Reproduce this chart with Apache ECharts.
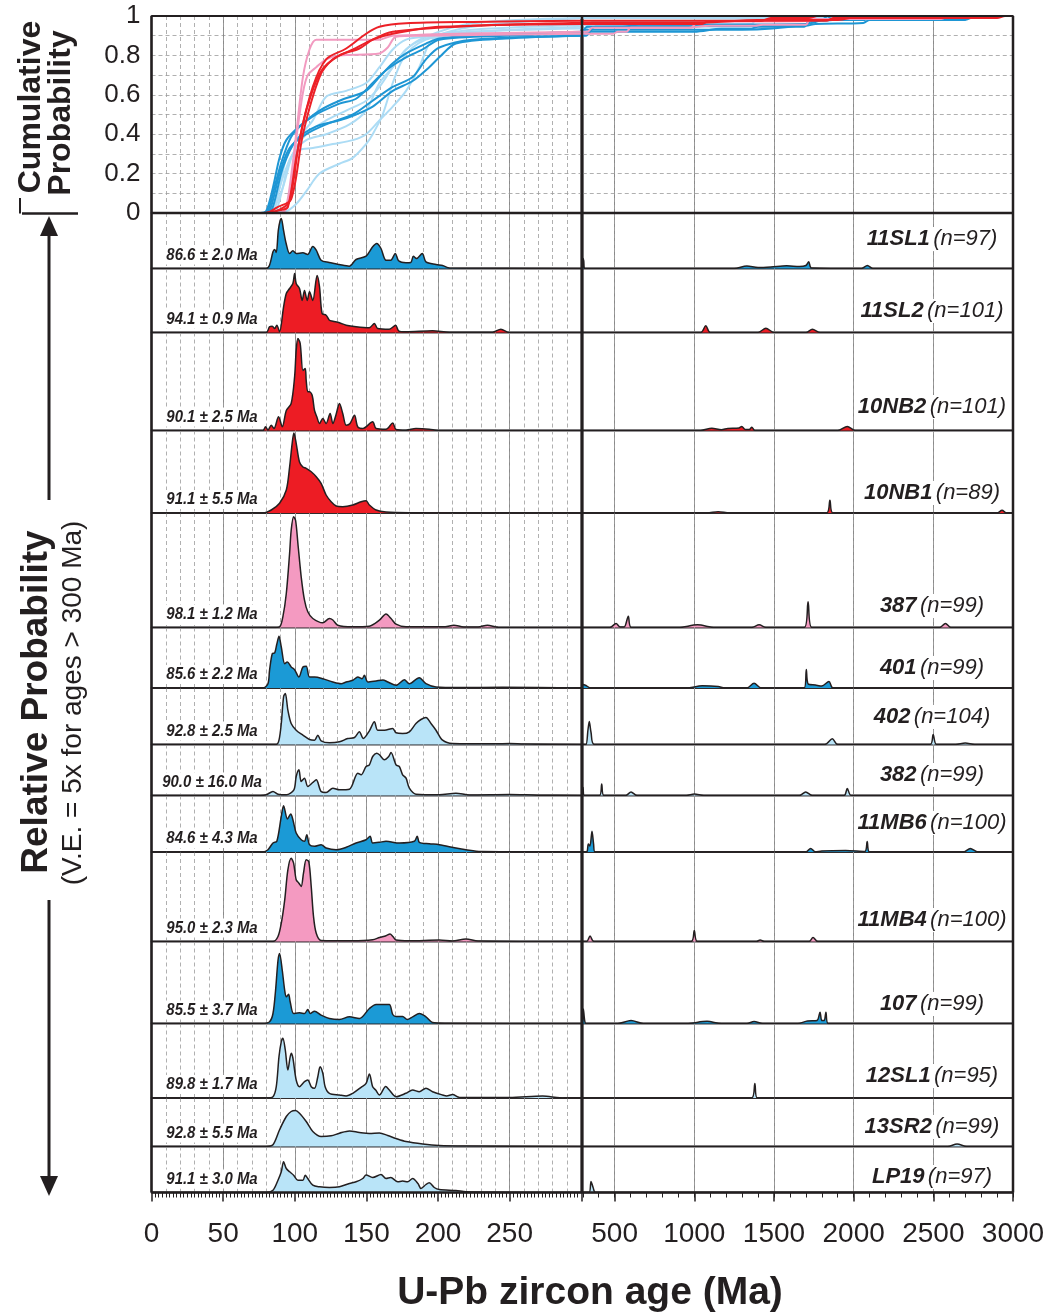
<!DOCTYPE html>
<html>
<head>
<meta charset="utf-8">
<script src="https://cdn.jsdelivr.net/npm/echarts@6/dist/echarts.min.js"></script>
<style>
html,body{margin:0;padding:0;background:#fff}
#chart{width:1049px;height:1314px}
</style>
</head>
<body>
<div id="chart"></div>
<script>
// samples, top to bottom
var sampleNames = ['11SL1','11SL2','10NB2','10NB1','387','401','402','382','11MB6','11MB4','107','12SL1','13SR2','LP19']
var sampleCounts = [97,101,101,89,99,99,104,99,100,100,99,95,99,97]
var youngestAges = ['86.6 ± 2.0','94.1 ± 0.9','90.1 ± 2.5','91.1 ± 5.5','98.1 ± 1.2','85.6 ± 2.2','92.8 ± 2.5','90.0 ± 16.0','84.6 ± 4.3','95.0 ± 2.3','85.5 ± 3.7','89.8 ± 1.7','92.8 ± 5.5','91.1 ± 3.0']
var sampleGroup = ['dark','red','red','red','pink','dark','light','light','dark','pink','dark','light','light','light']

// relative probability [age Ma, height], 0-300 Ma
var pdp11SL1 = [[0,0],[80,0],[82.4,3.3],[84.8,16.7],[86,19],[87.1,16],[88.5,38],[89.8,48],[90.6,50],[92.2,38],[94,25],[96.4,15],[98.7,17.7],[101,15],[105.7,15.7],[109,14],[112.6,22],[115,18.3],[118.4,8.3],[124,6],[131,4],[138,2.3],[142.8,9],[149.8,12.3],[154.4,21.7],[157.2,25],[160.2,20],[163.7,8.3],[167,8.3],[170.2,15],[172.5,7.7],[177.6,5.7],[181,6],[182.8,12.3],[185,10],[189,15],[191.6,6.7],[198.6,4],[203.2,3],[208,0.5],[300,0]]
var pdp11SL2 = [[0,0],[80,0],[82.4,5.7],[84.3,6.3],[86,4],[87.5,7.3],[89.4,0.7],[92.2,25.7],[94.1,39],[96.4,44],[98.7,49],[99.9,59],[101,49],[103.3,44],[105.2,32],[106.8,42],[108.7,32],[110.3,40.7],[112.6,32],[115.6,57],[117.3,45.7],[119.1,19],[121.9,17.3],[124.2,12.3],[126.6,11.3],[131.2,9.7],[135.9,7.3],[142.8,5.7],[152,4.7],[155.6,9],[157.9,4],[166,3.3],[170.4,7.3],[172.5,1.7],[177.6,0.7],[196.2,1.7],[208,0.3],[238,0.3],[243.9,3.3],[249.8,0],[300,0]]
var pdp10NB2 = [[0,0],[77.8,0],[79.6,3.7],[81.3,0.5],[83.6,5.3],[85.5,2],[88.7,13.7],[91.3,3.7],[94.1,20],[97.5,27],[99.9,53.7],[101,80],[102.2,92],[103.8,87],[105.7,60],[107.3,62],[108,50],[109.1,38.7],[110.3,38.7],[112.2,35],[113.8,20],[115.4,13.7],[117.3,7],[119.6,12],[121.9,7],[124.7,17],[126.6,7],[128.9,16.3],[131.2,27],[133.5,17],[135.9,5.3],[138.6,7],[141.7,15.3],[144,3.7],[147.5,2],[154.4,8.7],[156.8,2],[163.7,1.3],[168.4,7.5],[170.7,1],[177.7,0.3],[184.6,2],[193.9,1.3],[200,0],[300,0]]
var pdp10NB1 = [[0,0],[77.8,0],[83.6,3],[89.4,9.7],[94.1,23],[96.4,46],[98.2,69.7],[99.4,80],[101,69.7],[103.3,51],[105.7,46],[108,44.7],[111.5,41.3],[115,36.3],[118.4,29.7],[121.9,18],[125.4,11.3],[128.9,7],[133.5,6.3],[140.5,8],[146.3,11.3],[149.8,12.3],[152.1,8],[156.8,3],[163.7,1],[180,0.3],[300,0]]
var pdp387 = [[0,0],[84.8,0],[89.4,0.7],[91.7,10.7],[94.1,34],[96.4,74],[97.5,97],[99.2,110.7],[100.6,107],[102.2,84],[104.5,50.7],[106.8,27.3],[109.1,15.7],[112.6,9],[119.6,4.7],[124.2,9],[126.6,7.5],[130,2.3],[140.5,0.7],[152,1.3],[159.1,7.3],[163.7,13.5],[167.2,9],[170.7,3.3],[177.7,0.7],[205,0.7],[211,2.3],[218,0.5],[228,0.5],[234.5,2.3],[242,0.3],[300,0]]
var pdp401 = [[0,0],[77.8,0],[81.3,4.3],[82.4,17.7],[84.3,34.3],[86,35],[87.5,44],[89,51.7],[90.6,41],[93,24.3],[94.8,26],[97.5,21],[99.9,18.3],[102.9,11],[105.7,21],[108,21.7],[110.3,11],[113.8,11],[119.6,9.3],[126.6,6],[132.4,4.3],[135.9,6],[140.5,7.7],[144,11],[147,9.3],[148.6,12.7],[151,6],[156.8,7],[161.5,8],[165,6],[170.7,2.7],[176.5,8.3],[180,4.3],[186.9,10.3],[191.6,4.3],[198.6,1],[215,0.5],[245,0.7],[300,0]]
var pdp402 = [[0,0],[87.1,0],[89,4.3],[90.6,21],[92.2,47.7],[93.4,51],[95.2,34.3],[97.5,21],[101,14.3],[105.7,9.3],[110.3,5],[113.8,4.3],[116.1,9.3],[118.4,3.7],[124.2,1.7],[131.2,2.7],[137,6],[141.7,7],[145.1,12.7],[147.9,6],[152.1,13.7],[155.6,22.7],[157.9,14.3],[162.6,14.3],[168.4,16],[170.7,11.7],[175.3,11],[180,12.7],[184.6,21],[188.1,25],[191.6,27],[195.1,21],[198.6,14.3],[203.2,4.3],[210.2,1],[240,0.7],[250,1],[260,0.5],[300,0]]
var pdp382 = [[0,0],[76,0],[80.1,0.7],[84.8,4],[88.3,1.3],[94.1,0.7],[99.4,5.7],[101,19],[102.9,25.7],[104.5,14],[106.8,17.3],[109.1,9],[112.6,13],[115,15.7],[118.4,4],[121.9,3],[126.6,7.3],[131.2,5.7],[138.2,6.3],[144,22.3],[146.3,20.7],[149.8,29],[152.1,30.7],[154.4,39],[157.2,42.3],[159.1,40.7],[162.6,35.7],[165.6,39],[167.2,43],[170.7,30.7],[173,29],[175.3,20.7],[177.7,17.3],[180,7.3],[184.6,1.3],[200.9,0.7],[212.5,2.3],[222,0.5],[249.8,1],[270,0.3],[300,0]]
var pdp11MB6 = [[0,0],[77.8,0],[81.3,2.3],[84.8,9],[87.5,10.7],[90.6,35.7],[92.2,46.3],[94.9,33],[97.2,38],[98.7,32.3],[101,19],[104.5,12.3],[106.8,10.7],[108.4,17.3],[110.3,7.3],[113.8,5.7],[118.4,7.3],[121.9,4],[128.9,2.3],[135.9,4.7],[142.8,9],[149.8,12.3],[152.6,15.7],[154.4,9],[159.1,9.7],[163.7,10.7],[173,9],[183.5,10.7],[185.5,15.7],[187,9.7],[193.9,8.3],[200.9,7.3],[212.5,4],[219.5,2.3],[230,0.5],[260,0.3],[300,0]]
var pdp11MB4 = [[0,0],[84.8,0],[88.3,5],[90.6,18.3],[93,41.7],[95.2,71.7],[97.5,83.3],[99.2,78.3],[101,61.7],[102.9,58.3],[104.5,55],[106.1,68.3],[108,81.7],[109.8,80],[111.5,55],[113.1,25],[115,8.3],[118.4,1],[140,0.7],[154.4,1.7],[159.2,4],[163.7,5.7],[166.5,7.5],[168.5,5],[170.7,1.5],[180,0.7],[201,1.5],[210,0.5],[219.5,2.5],[228,0.5],[300,0]]
var pdp107 = [[0,0],[77.8,0],[82.4,1.7],[84.8,10],[86.6,33],[88.3,63],[89.4,70],[91.3,53],[93,33],[94.1,26.7],[95.7,29.3],[96.8,21.7],[99.2,10],[103.3,10.7],[106.8,10],[109.1,14],[110.8,10],[113.8,12.3],[118.4,8.3],[124.2,5],[131.2,4],[138.2,6.7],[145.1,5],[152.1,15],[156.8,19],[160.2,19],[166,19],[168.4,9],[170.8,7],[175.3,7],[178.5,4],[182.3,6.7],[187,10],[191.6,6.7],[196.2,1],[205,0.3],[300,0]]
var pdp12SL1 = [[0,0],[80.1,0],[84.8,1.3],[87.1,11.3],[89,41.3],[90.6,56.3],[91.7,59.7],[93.4,48],[95.2,28],[97.5,44.7],[98.7,40],[101,18],[103.3,11.3],[106.8,16.3],[109.1,18],[111.5,11.3],[113.8,9.7],[116.1,21.3],[117.7,31.3],[119.6,24.7],[121.2,11.3],[124.2,4.7],[131.2,3],[135.9,2],[140.5,4.7],[146.3,10.7],[149.8,14.7],[152.1,24],[154.4,11.3],[156.5,8],[159.1,3],[163.5,11.5],[166,8],[170.7,1.3],[177.6,4.7],[182.3,8],[186.9,6.3],[191.6,9.7],[196.2,6.3],[203.2,3],[206,2],[210.2,3.5],[214.8,0.7],[250,0.5],[273,2],[285,0.3],[300,0]]
var pdp13SR2 = [[0,0],[80.1,0],[84.8,1.7],[89.4,16.7],[94.1,30],[97.5,35],[100.4,36],[103.3,33.3],[108,25],[112.6,15],[118.4,10],[125.4,10.7],[131.2,13.3],[138.2,15.5],[145.1,14],[152.1,13],[159.1,13.5],[164.9,11],[170.7,8],[177.7,5],[189.3,2.5],[200.9,1],[219.5,0.5],[300,0]]
var pdpLP19 = [[0,0],[80.1,0],[84.8,2.3],[88.3,12.3],[90.6,20.7],[92.2,30.7],[94.1,24],[96.4,20.7],[99.2,17.3],[102.2,12.3],[105.7,12.3],[107.3,17.3],[109.1,14],[112.6,7.3],[117.3,5.7],[124.2,5],[131.2,5.7],[138.2,9],[142.8,10.7],[147.5,14],[149.8,17.5],[154.4,15],[160.2,18],[163.7,14],[167,15],[171.9,10.7],[175.3,11.5],[178.8,10.7],[182.3,14],[186,9],[188.1,4],[191.6,8],[193.9,9.7],[197.4,5],[200.9,3],[212.5,2],[219.5,0.7],[240,0.2],[300,0]]

// relative probability, 300-3000 Ma (5x vertical exaggeration)
var old11SL1 = [[300,0],[302,10],[306,8],[312,0],[1250,0],[1330,2.5],[1400,1],[1480,1.5],[1580,2.7],[1660,2],[1700,3],[1718,6.7],[1735,0.5],[2050,0],[2086,3],[2120,0],[3000,0]]
var old11SL2 = [[300,0],[1040,0],[1072,6.7],[1100,0],[1400,0],[1449,4.3],[1500,0],[1700,0],[1741,3.3],[1790,0],[3000,0]]
var old10NB2 = [[300,0],[1040,0],[1110,2.3],[1170,0.8],[1210,2],[1280,2.5],[1298,4],[1320,1],[1345,1],[1361,3.3],[1380,0],[1900,0],[1960,4],[2010,0],[3000,0]]
var old10NB1 = [[300,0],[1080,0],[1150,1.3],[1220,0],[1830,0],[1851,12.7],[1870,0],[2900,0],[2931,2.7],[2960,0],[3000,0]]
var old387 = [[300,0],[470,0],[509,4],[535,0.5],[560,0.5],[586,11.3],[605,0],[900,0],[1020,2.7],[1130,0],[1360,0],[1407,2.7],[1450,0],[1690,0],[1714,25.7],[1738,0],[2540,0],[2576,4],[2610,0],[3000,0]]
var old401 = [[300,0],[303,3.6],[320,2.5],[350,0],[950,0],[1050,2.2],[1150,1.5],[1190,0],[1330,0],[1375,4.7],[1420,0],[1690,0],[1703,18.5],[1715,4],[1760,3],[1800,2],[1845,6.5],[1870,0],[3000,0]]
var old402 = [[300,0],[320,0],[333,15],[341,23],[352,12],[373,0],[1820,0],[1866,5.8],[1900,0],[2480,0],[2499,10],[2520,0],[2640,0],[2700,1.5],[2760,0],[3000,0]]
var old382 = [[300,0],[302,8],[310,0],[405,0],[419,11.6],[432,0],[570,0],[603,3.6],[640,0],[950,0],[1000,1.5],[1060,0],[1660,0],[1699,3.6],[1740,0],[1940,0],[1960,6.9],[1985,0],[3000,0]]
var old11MB6 = [[300,0],[325,0],[335,8],[345,6],[358,20.7],[368,8],[377,0],[1700,0],[1730,3.6],[1760,0],[1800,1],[1950,1.5],[2070,0.5],[2085,10.5],[2100,0],[2690,0],[2732,3.6],[2780,0],[3000,0]]
var old11MB4 = [[300,0],[325,0],[346,5.5],[370,0],[980,0],[1000,11],[1020,0],[1390,0],[1413,1.5],[1440,0],[1720,0],[1745,4],[1775,0],[3000,0]]
var old107 = [[300,0],[304,14.5],[312,3],[320,0],[520,0],[603,3],[680,0],[950,0],[1080,2.2],[1170,0],[1330,0],[1375,2],[1430,0],[1650,0],[1710,2.5],[1770,3],[1789,11.3],[1800,3],[1815,3],[1826,11.3],[1840,0],[3000,0]]
var old12SL1 = [[300,0],[1360,0],[1380,14.5],[1395,0],[3000,0]]
var old13SR2 = [[300,0],[2590,0],[2649,2.5],[2710,0],[3000,0]]
var oldLP19 = [[300,0],[340,0],[352,11],[365,5],[380,0],[3000,0]]

// cumulative probability [age Ma, fraction]
var cdf11SL1 = [[0,0],[78,0],[81.3,0.01],[87.1,0.165],[91.7,0.28],[98.7,0.40],[112.6,0.49],[131.2,0.555],[142.8,0.58],[154.4,0.66],[163.7,0.725],[177.7,0.79],[189.3,0.83],[200.9,0.88],[247.3,0.90],[300,0.91]]
var cdf11SL2 = [[0,0],[80,0],[88,0.03],[97.5,0.07],[105.7,0.40],[117.3,0.69],[126.6,0.78],[140.5,0.83],[154.4,0.88],[168.4,0.91],[200.9,0.945],[300,0.96]]
var cdf10NB2 = [[0,0],[78,0],[90,0.015],[95.2,0.03],[101,0.28],[108,0.52],[118.4,0.72],[131.2,0.80],[145.1,0.835],[154.4,0.88],[168.4,0.92],[224,0.95],[300,0.966]]
var cdf10NB1 = [[0,0],[80,0],[90,0.02],[96.4,0.06],[103.3,0.37],[112.6,0.64],[121.9,0.78],[135.9,0.835],[149.8,0.91],[159.1,0.945],[177.7,0.963],[224,0.97],[300,0.976]]
var cdf387 = [[0,0],[88,0],[94.1,0.02],[97.5,0.13],[101,0.37],[105.7,0.61],[109.1,0.70],[115,0.74],[121.9,0.78],[131.2,0.80],[159.1,0.81],[164.9,0.84],[170.7,0.895],[189.3,0.90],[300,0.91]]
var cdf401 = [[0,0],[78,0],[82.4,0.01],[89.4,0.2],[96.4,0.33],[108,0.40],[121.9,0.45],[140.5,0.50],[154.4,0.57],[168.4,0.64],[182.3,0.69],[191.6,0.78],[200.9,0.84],[224,0.88],[300,0.90]]
var cdf402 = [[0,0],[85,0],[87.1,0.01],[91.7,0.13],[96.4,0.27],[103.3,0.32],[112.6,0.33],[126.6,0.35],[140.5,0.37],[149.8,0.40],[159.1,0.47],[168.4,0.54],[177.7,0.62],[186.9,0.74],[193.9,0.86],[200.9,0.895],[224,0.92],[300,0.937]]
var cdf382 = [[0,0],[80,0],[94.1,0.01],[101,0.046],[108,0.11],[117.3,0.2],[131.2,0.25],[140.5,0.28],[149.8,0.35],[154.4,0.40],[161.4,0.50],[168.4,0.66],[175.3,0.78],[182.3,0.84],[191.6,0.88],[200.9,0.895],[224,0.92],[300,0.946]]
var cdf11MB6 = [[0,0],[78,0],[83.6,0.01],[91.7,0.23],[101,0.37],[115,0.44],[131.2,0.47],[142.8,0.50],[154.4,0.54],[168.4,0.62],[182.3,0.67],[193.9,0.74],[200.9,0.79],[212.5,0.86],[247.3,0.886],[300,0.90]]
var cdf11MB4 = [[0,0],[88,0],[92.9,0.01],[96.4,0.13],[101,0.40],[105.7,0.69],[110.3,0.83],[115,0.88],[159.1,0.88],[168.4,0.90],[300,0.92]]
var cdf107 = [[0,0],[76,0],[80.1,0.01],[84.8,0.13],[89.4,0.28],[94.1,0.37],[103.3,0.44],[117.3,0.52],[131.2,0.57],[149.8,0.62],[159.1,0.69],[168.4,0.76],[177.7,0.81],[191.6,0.86],[200.9,0.886],[224,0.90],[300,0.92]]
var cdf12SL1 = [[0,0],[82,0],[84.8,0.01],[89.4,0.13],[94.1,0.28],[101,0.37],[112.6,0.47],[121.9,0.59],[135.9,0.62],[149.8,0.66],[159.1,0.74],[168.4,0.83],[177.7,0.88],[191.6,0.895],[224,0.93],[300,0.954]]
var cdf13SR2 = [[0,0],[82,0],[84.8,0.01],[91.7,0.13],[98.7,0.30],[108,0.40],[121.9,0.47],[135.9,0.52],[149.8,0.57],[159.1,0.64],[168.4,0.74],[177.7,0.83],[189.3,0.88],[224,0.946],[300,0.99]]
var cdfLP19 = [[0,0],[82,0],[84.8,0.01],[91.7,0.18],[98.7,0.30],[108,0.37],[121.9,0.40],[138.2,0.45],[149.8,0.52],[159.1,0.66],[168.4,0.74],[177.7,0.83],[191.6,0.895],[224,0.963],[300,0.99]]

var cdfOld11SL1 = [[300,0.91],[320,0.93],[1300,0.93],[1700,0.955],[1740,0.98],[2070,0.98],[2100,1],[3000,1]]
var cdfOld11SL2 = [[300,0.96],[1050,0.96],[1090,0.975],[1420,0.975],[1480,0.99],[1720,0.99],[1770,1],[3000,1]]
var cdfOld10NB2 = [[300,0.966],[1050,0.966],[1400,0.98],[1900,0.98],[2050,1],[3000,1]]
var cdfOld10NB1 = [[300,0.976],[1830,0.976],[1870,0.99],[2900,0.99],[2950,1],[3000,1]]
var cdfOld387 = [[300,0.91],[490,0.91],[520,0.92],[575,0.92],[600,0.94],[950,0.94],[1100,0.95],[1380,0.95],[1430,0.955],[1700,0.955],[1730,0.985],[2550,0.985],[2600,1],[3000,1]]
var cdfOld401 = [[300,0.90],[340,0.92],[1000,0.92],[1170,0.935],[1350,0.935],[1400,0.945],[1690,0.945],[1720,0.975],[1830,0.98],[1860,1],[3000,1]]
var cdfOld402 = [[300,0.937],[320,0.937],[370,0.975],[1840,0.975],[1890,0.985],[2480,0.985],[2520,0.995],[2750,1],[3000,1]]
var cdfOld382 = [[300,0.946],[310,0.955],[410,0.955],[430,0.97],[580,0.97],[630,0.975],[1680,0.98],[1720,0.985],[1940,0.985],[1980,1],[3000,1]]
var cdfOld11MB6 = [[300,0.90],[320,0.90],[380,0.945],[1700,0.95],[1760,0.96],[2060,0.965],[2100,0.98],[2700,0.98],[2770,1],[3000,1]]
var cdfOld11MB4 = [[300,0.92],[330,0.92],[360,0.94],[980,0.94],[1020,0.97],[1720,0.975],[1770,1],[3000,1]]
var cdfOld107 = [[300,0.92],[330,0.945],[550,0.945],[650,0.955],[1700,0.96],[1780,0.975],[1810,0.985],[1840,1],[3000,1]]
var cdfOld12SL1 = [[300,0.954],[1360,0.96],[1400,1],[3000,1]]
var cdfOld13SR2 = [[300,0.99],[2600,0.99],[2700,1],[3000,1]]
var cdfOldLP19 = [[300,0.99],[340,0.99],[380,1],[3000,1]]

var pdpYoung = [pdp11SL1,pdp11SL2,pdp10NB2,pdp10NB1,pdp387,pdp401,pdp402,pdp382,pdp11MB6,pdp11MB4,pdp107,pdp12SL1,pdp13SR2,pdpLP19]
var pdpOld = [old11SL1,old11SL2,old10NB2,old10NB1,old387,old401,old402,old382,old11MB6,old11MB4,old107,old12SL1,old13SR2,oldLP19]
var cdfYoung = [cdf11SL1,cdf11SL2,cdf10NB2,cdf10NB1,cdf387,cdf401,cdf402,cdf382,cdf11MB6,cdf11MB4,cdf107,cdf12SL1,cdf13SR2,cdfLP19]
var cdfOld = [cdfOld11SL1,cdfOld11SL2,cdfOld10NB2,cdfOld10NB1,cdfOld387,cdfOld401,cdfOld402,cdfOld382,cdfOld11MB6,cdfOld11MB4,cdfOld107,cdfOld12SL1,cdfOld13SR2,cdfOldLP19]

// ---- layout / style ----
var INK = '#231f20'
var FONT = '"Liberation Sans", Arial, sans-serif'
var fillColor = {dark:'#1b9ad6', red:'#ed1c24', pink:'#f49ac1', light:'#b9e4f8'}
var cdfColor = {dark:'#1e96d4', red:'#ec2027', pink:'#f29ac0', light:'#acdcf5'}
var X0 = 151.5, XB = 582, X1 = 1013
var rowEdges = [16, 213, 268.5, 332.5, 430.5, 513, 627.5, 688, 744.5, 795.5, 852, 941.5, 1023.5, 1098, 1146.5, 1192.5]
var labelRise = [29.5, 21.5, 23.5, 20, 21.5, 20, 27.5, 20.5, 29, 21.5, 19.5, 22, 19.5, 15.5]
var CLEAR = 'rgba(0,0,0,0)'

var grids = [], xAxes = [], yAxes = [], series = []

for (var r = 0; r < 15; r++) {
	for (var s = 0; s < 2; s++) {
		var g = r * 2 + s
		var h = rowEdges[r + 1] - rowEdges[r]
		var bottom = r === 14
		grids.push({
			left: s ? XB + 0.75 : X0,
			top: rowEdges[r],
			width: s ? X1 - XB - 0.75 : XB - X0 - 0.75,
			height: h,
			show: true,
			borderColor: INK,
			borderWidth: 1.5
		})
		var labelStyle = {show: bottom, fontSize: 28, fontFamily: FONT, color: INK, margin: 28}
		if (s === 0) {
			xAxes.push({
				gridIndex: g, type: 'value', min: 0, max: 300, interval: 50, position: 'bottom',
				axisLine: {show: false},
				axisTick: {show: bottom, length: 9, lineStyle: {color: INK, width: 1.5}},
				minorTick: {show: bottom, splitNumber: 20, length: 5, lineStyle: {color: INK, width: 1}},
				axisLabel: Object.assign({formatter: function (v) { return v === 300 ? '' : v }}, labelStyle),
				splitLine: {show: true, lineStyle: {color: '#8a8a8a', width: 1}}
			})
			xAxes.push({
				gridIndex: g, type: 'value', min: 0, max: 300, interval: 10, position: 'bottom',
				axisLine: {show: false}, axisTick: {show: false}, axisLabel: {show: false},
				splitLine: {show: true, lineStyle: {color: '#9c9c9c', width: 0.8, type: [4, 3]}}
			})
		} else {
			xAxes.push({
				gridIndex: g, type: 'value', min: 300, max: 3000, interval: 100, position: 'bottom',
				axisLine: {show: false},
				axisTick: {show: bottom, length: 5, lineStyle: {color: INK, width: 1}},
				axisLabel: Object.assign({formatter: function (v) { return v % 500 === 0 ? v : '' }}, labelStyle),
				splitLine: {show: true, lineStyle: {color: [CLEAR, CLEAR, '#8a8a8a', CLEAR, CLEAR], width: 1}}
			})
			xAxes.push({
				gridIndex: g, type: 'value', min: 300, max: 3000, interval: 100, position: 'bottom',
				axisLine: {show: false},
				axisTick: {show: bottom, customValues: [500, 1000, 1500, 2000, 2500, 3000], length: 9, lineStyle: {color: INK, width: 1.5}},
				axisLabel: {show: false},
				splitLine: {show: true, lineStyle: {color: '#9c9c9c', width: 0.8, type: [4, 3]}}
			})
		}
		if (r === 0) {
			yAxes.push({
				gridIndex: g, type: 'value', min: 0, max: 1, interval: 0.1,
				axisLine: {show: false}, axisTick: {show: false},
				axisLabel: {
					show: s === 0, fontSize: 26, fontFamily: FONT, color: INK, margin: 11,
					formatter: function (v) {
						var k = Math.round(v * 10)
						if (k % 2) return ''
						return k === 0 ? '0' : k === 10 ? '1' : (k / 10).toFixed(1)
					}
				},
				splitLine: {show: true, lineStyle: {color: '#9c9c9c', width: 0.8, type: [4, 3]}}
			})
		} else {
			yAxes.push({gridIndex: g, type: 'value', min: 0, max: h, show: false})
		}
	}
}

// cumulative curves, light blue drawn first so reds sit on top
var drawOrder = ['light', 'dark', 'pink', 'red']
drawOrder.forEach(function (grp) {
	for (var i = 0; i < sampleNames.length; i++) {
		if (sampleGroup[i] !== grp) continue
		;[cdfYoung[i], cdfOld[i]].forEach(function (d, s) {
			series.push({
				type: 'line', name: sampleNames[i] + ' cdf', data: d,
				xAxisIndex: s * 2, yAxisIndex: s,
				smooth: 0.3, symbol: 'none', silent: true,
				lineStyle: {color: cdfColor[grp], width: 2}
			})
		})
	}
})

// probability panels
for (var i = 0; i < sampleNames.length; i++) {
	;[pdpYoung[i], pdpOld[i]].forEach(function (d, s) {
		var g = (i + 1) * 2 + s
		series.push({
			type: 'line', name: sampleNames[i], data: d,
			xAxisIndex: g * 2, yAxisIndex: g,
			smooth: 0.3, symbol: 'none', silent: true,
			lineStyle: {color: INK, width: 1.5},
			areaStyle: {color: fillColor[sampleGroup[i]], opacity: 1}
		})
	})
}

// texts and arrows
var graphic = []
function rotText(text, x, y, size, weight) {
	graphic.push({
		type: 'text', x: x, y: y, rotation: Math.PI / 2,
		style: {text: text, fontSize: size, fontWeight: weight, fontFamily: FONT, fill: INK,
			align: 'center', verticalAlign: 'middle', textAlign: 'center', textVerticalAlign: 'middle'}
	})
}
rotText('Cumulative', 31, 107, 32, 'bold')
rotText('Probability', 61, 113, 32, 'bold')
rotText('Relative Probability', 37, 702, 37, 'bold')
rotText('(V.E. = 5x for ages > 300 Ma)', 73, 703, 28, 'normal')

function line(x1, y1, x2, y2, w) {
	graphic.push({type: 'line', z: 50, shape: {x1: x1, y1: y1, x2: x2, y2: y2}, style: {stroke: INK, lineWidth: w}})
}
line(22, 213.5, 78, 213.5, 2.5)
line(20, 198, 20, 213.5, 2)
line(49, 230, 49, 500, 3)
line(49, 900, 49, 1182, 3)
graphic.push({type: 'polygon', shape: {points: [[49, 216], [40, 236], [58, 236]]}, style: {fill: INK}})
graphic.push({type: 'polygon', shape: {points: [[49, 1196], [40, 1176], [58, 1176]]}, style: {fill: INK}})

// frame
line(X0, rowEdges[0], X0, rowEdges[15], 2.5)
line(XB, rowEdges[0], XB, rowEdges[15], 2.5)
line(X1, rowEdges[0], X1, rowEdges[15], 2.5)
line(X0, rowEdges[0], X1, rowEdges[0], 2)
line(X0, rowEdges[1], X1, rowEdges[1], 2.5)
line(X0, rowEdges[15], X1, rowEdges[15], 2.5)

for (var i = 0; i < sampleNames.length; i++) {
	var base = rowEdges[i + 2]
	graphic.push({
		type: 'text', x: 932, y: base - labelRise[i], z: 60,
		style: {
			text: '{b|' + sampleNames[i] + '} {n|(n=' + sampleCounts[i] + ')}',
			rich: {
				b: {fontSize: 22, fontWeight: 'bold', fontStyle: 'italic', fontFamily: FONT, fill: INK},
				n: {fontSize: 22, fontStyle: 'italic', fontFamily: FONT, fill: INK}
			},
			align: 'center', verticalAlign: 'middle', textAlign: 'center', textVerticalAlign: 'middle',
			backgroundColor: '#fff', padding: [1, 3]
		}
	})
	graphic.push({
		type: 'text', x: 212, y: base - 13.5, z: 60, scaleX: 0.88,
		style: {
			text: youngestAges[i] + ' Ma', fontSize: 17, fontWeight: 'bold', fontStyle: 'italic', fontFamily: FONT, fill: INK,
			align: 'center', verticalAlign: 'middle', textAlign: 'center', textVerticalAlign: 'middle',
			backgroundColor: '#fff', padding: [1, 3]
		}
	})
}

graphic.push({
	type: 'text', x: 590, y: 1293,
	style: {text: 'U-Pb zircon age (Ma)', fontSize: 39, fontWeight: 'bold', fontFamily: FONT, fill: INK,
		align: 'center', verticalAlign: 'middle', textAlign: 'center', textVerticalAlign: 'middle'}
})

var chart = echarts.init(document.getElementById('chart'))
chart.setOption({
	animation: false,
	backgroundColor: '#fff',
	grid: grids,
	xAxis: xAxes,
	yAxis: yAxes,
	series: series,
	graphic: graphic
})
</script>
</body>
</html>
